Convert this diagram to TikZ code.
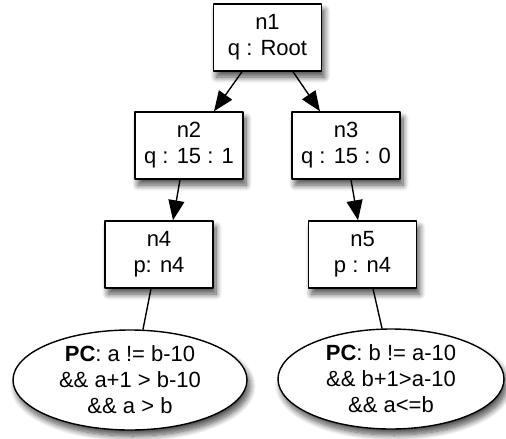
\documentclass[tikz,border=0pt]{standalone}
\usepackage{fontspec}
\setmainfont{Liberation Sans}
\usetikzlibrary{arrows.meta,shapes.geometric,shadows.blur}
\tikzset{
  softshadow/.style={blur shadow={shadow xshift=3pt,shadow yshift=-6pt,shadow blur radius=6pt,shadow blur steps=10,shadow opacity=70}},
  statebox/.style={rectangle,draw,fill=white,line width=1.4pt,align=center,
    minimum width=108pt,minimum height=67pt,inner sep=0pt,softshadow},
  pcnode/.style={ellipse,draw,fill=white,line width=1.4pt,align=center,inner sep=0pt,
    minimum height=100pt,softshadow},
  tree/.style={line width=1.4pt,-{Triangle[length=20pt,width=16pt]}},
  every picture/.style={line cap=round,line join=round}
}

\begin{document}
\begin{tikzpicture}[x=1pt,y=-1pt,font=\fontsize{22}{26}\selectfont]
  \useasboundingbox (0,0) rectangle (506,439);
  \node[statebox] (n1) at (267.5,37.5) {n1\\q : Root};
  \node[statebox] (n2) at (189,145.5) {n2\\q : 15 : 1};
  \node[statebox] (n3) at (346,145.5) {n3\\q : 15 : 0};
  \node[statebox] (n4) at (159,254.5) {n4\\p: n4};
  \node[statebox] (n5) at (362.5,254.5) {n5\\p : n4};
  \node[pcnode,minimum width=234pt] (pc4) at (130,380) {\textbf{PC}: a != b-10\\\&\& a+1 > b-10\\\&\& a > b};
  \node[pcnode,minimum width=226pt] (pc5) at (391,379) {\textbf{PC}: b != a-10\\\&\& b+1>a-10\\\&\& a<=b};
  % tree edges
  \draw[tree] ([xshift=-25.5pt]n1.south) -- ([xshift=25pt]n2.north);
  \draw[tree] ([xshift=25.5pt]n1.south) -- ([xshift=-26pt]n3.north);
  \draw[tree] ([xshift=-9pt]n2.south) -- ([xshift=14pt]n4.north);
  \draw[tree] ([xshift=5pt]n3.south) -- ([xshift=-4.5pt]n5.north);
  \draw[line width=1.4pt] ([xshift=-8pt]n4.south) -- ([xshift=13pt]pc4.north);
  \draw[line width=1.4pt] ([xshift=10.5pt]n5.south) -- ([xshift=-9pt]pc5.north);
\end{tikzpicture}
\end{document}
